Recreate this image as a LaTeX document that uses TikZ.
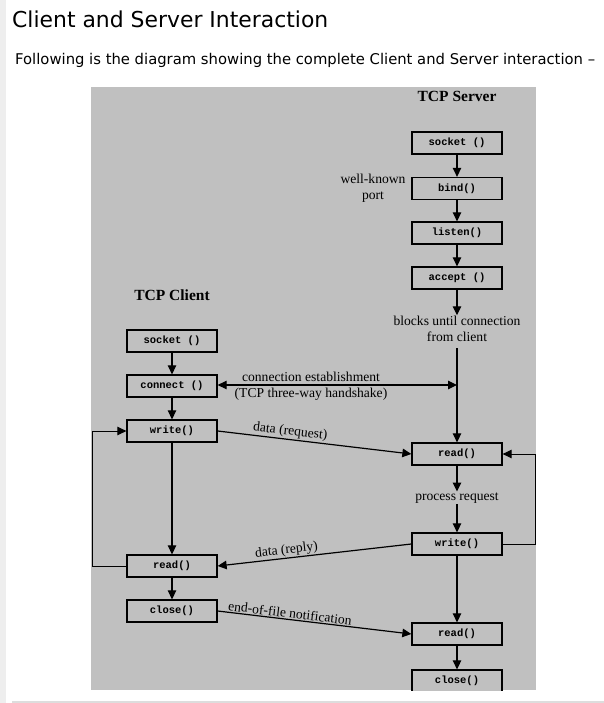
\documentclass[tikz,border=0pt]{standalone}
\usepackage{fontspec}
\setmainfont{Liberation Serif}
\newfontfamily\titlefont{DejaVu Sans}
\newfontfamily\codefont{Liberation Mono}
\usetikzlibrary{arrows.meta}
\definecolor{bggray}{HTML}{C0C0C0}
\definecolor{stripgray}{HTML}{EEEEEE}
\definecolor{rulegray}{HTML}{DDDDDD}
\tikzset{
  fn/.style={draw, line width=1.3pt, fill=bggray, minimum width=90pt, minimum height=22pt, inner sep=0pt,
    font=\codefont\bfseries\fontsize{10.5}{12}\selectfont},
  lbl/.style={font=\fontsize{13.6}{15.5}\selectfont, inner sep=1pt, align=center},
  hdr/.style={font=\bfseries\fontsize{15.5}{18}\selectfont, inner sep=0pt},
  arr/.style={line width=1.2pt, -{Triangle[length=9pt,width=8.5pt]}},
  darr/.style={line width=1.2pt, {Triangle[length=9pt,width=8.5pt]}-{Triangle[length=9pt,width=8.5pt]}},
  loopln/.style={line width=1pt, -{Triangle[length=9pt,width=8.5pt]}},
}
\begin{document}
\begin{tikzpicture}[x=1pt,y=-1pt]
\useasboundingbox (0,0) rectangle (604,703);
\fill[white] (0,0) rectangle (604,703);
\fill[stripgray] (0,0) rectangle (6,703);
\fill[rulegray] (12,701) rectangle (604,703);
\node[anchor=base west, inner sep=0pt, font=\titlefont\fontsize{21.9}{26}\selectfont] (title) at (12,28) {Client and Server Interaction};
\node[anchor=base west, inner sep=0pt, font=\titlefont\fontsize{14.8}{17}\selectfont] (sub) at (15,65) {Following is the diagram showing the complete Client and Server interaction –};
\fill[bggray] (91,87) rectangle (536,690);
\begin{scope}
\clip (91,87) rectangle (536,690);
% server
\node[hdr, anchor=base] (shdr) at (457,102) {TCP Server};
\node[fn] (ssock) at (457,143) {socket ()};
\node[fn] (sbind) at (457,188.5) {bind()};
\node[fn] (slisten) at (457,233) {listen()};
\node[fn] (saccept) at (457,278) {accept ()};
\node[lbl] (wk) at (373,188) {well-known\\port};
\node[lbl] (blocks) at (457,329) {blocks until connection\\from client};
\coordinate (vtop) at (457,348);
\node[fn] (sread) at (457,454) {read()};
\node[lbl] (proc) at (457,498) {process request};
\node[fn] (swrite) at (457,544) {write()};
\node[fn] (sread2) at (457,634) {read()};
\node[fn] (sclose) at (457,681) {close()};
% client
\node[hdr, anchor=base] (chdr) at (172,300) {TCP Client};
\node[fn] (csock) at (172,341) {socket ()};
\node[fn] (cconn) at (172,386) {connect ()};
\node[fn] (cwrite) at (172,431) {write()};
\node[fn] (cread) at (172,566) {read()};
\node[fn] (cclose) at (172,611) {close()};
% server arrows
\draw[arr] (ssock) -- (sbind);
\draw[arr] (sbind) -- (slisten);
\draw[arr] (slisten) -- (saccept);
\draw[arr] (saccept) -- (blocks);
\draw[arr] (vtop) -- (sread);
\draw[arr] (sread) -- (proc);
\draw[arr] (proc) -- (swrite);
\draw[arr] (swrite) -- (sread2);
\draw[arr] (sread2) -- (sclose);
\draw[loopln] (swrite.east) -- ++(33,0) |- (sread.east);
% client arrows
\draw[arr] (csock) -- (cconn);
\draw[arr] (cconn) -- (cwrite);
\draw[arr] (cwrite) -- (cread);
\draw[arr] (cread) -- (cclose);
\draw[loopln] (cread.west) -- ++(-34,0) |- (cwrite.west);
% interactions
\coordinate (cpt) at (457,385);
\draw[darr] (cconn.east |- cpt) -- (cpt);
\node[lbl, anchor=base] (ce) at (311,381.5) {connection establishment};
\node[lbl, anchor=base] (tw) at (311,397) {(TCP three-way handshake)};
\draw[arr] (cwrite.east) -- node[lbl, sloped, above, pos=0.37] (dreq) {data (request)} (sread.west);
\draw[arr] (swrite.west) -- node[lbl, sloped, above, pos=0.64] (drep) {data (reply)} (cread.east);
\draw[arr] (cclose.east) -- node[lbl, sloped, above, pos=0.37] (eof) {end-of-file notification} (sread2.west);
\end{scope}
\end{tikzpicture}
\end{document}
